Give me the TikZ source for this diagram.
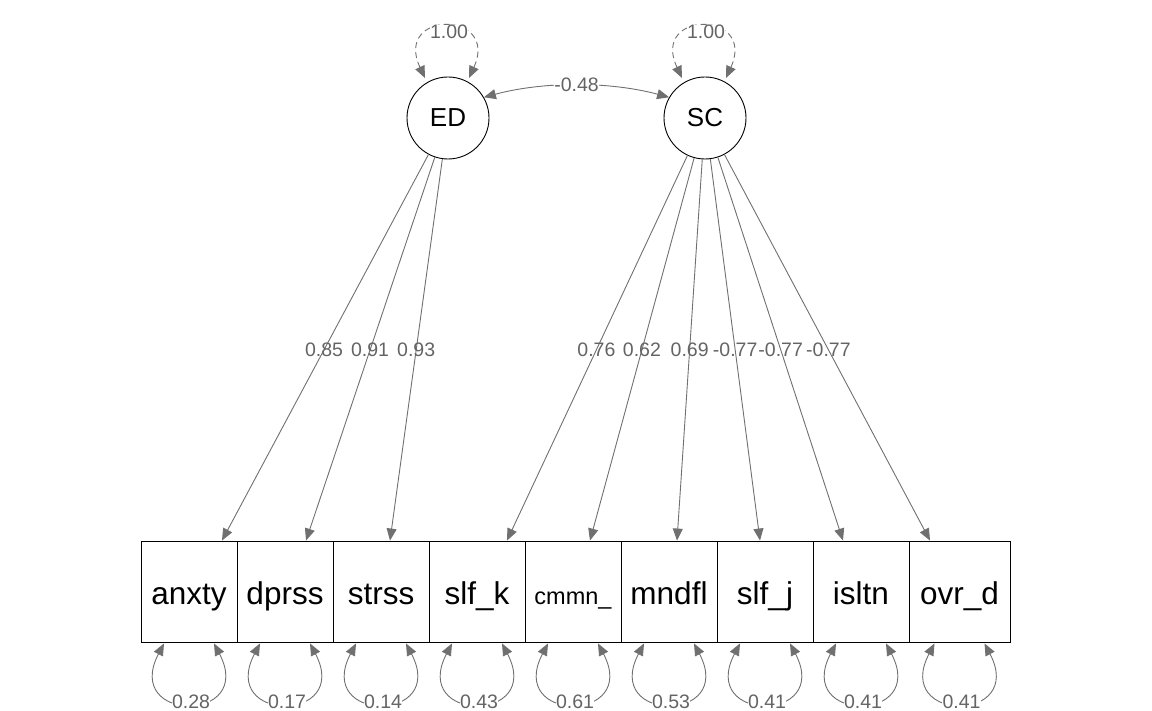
\documentclass[tikz,border=0pt]{standalone}
\usepackage{fontspec}
\setmainfont{Liberation Sans}
\usetikzlibrary{arrows.meta,calc}
\definecolor{edgecol}{RGB}{112,112,112}
\definecolor{labcol}{RGB}{100,100,100}
\begin{document}
\begin{tikzpicture}[x=1pt,y=-1pt,
  latent/.style={circle,draw=black,line width=0.9pt,minimum size=82pt,inner sep=0pt,font=\fontsize{26}{26}\selectfont},
  manifest/.style={rectangle,draw=black,line width=0.9pt,minimum width=96pt,minimum height=101pt,inner sep=0pt,text height=31pt,text depth=6pt,font=\fontsize{31.5}{31.5}\selectfont},
  tip/.tip={Triangle[length=12pt,width=10pt]},
  edge/.style={draw=edgecol,line width=0.9pt,-tip},
  twoway/.style={draw=edgecol,line width=0.9pt,tip-tip},
  elab/.style={text=labcol,font=\fontsize{19.5}{19.5}\selectfont,inner sep=0pt},
  blab/.style={text=labcol,font=\fontsize{19.5}{19.5}\selectfont,inner sep=0.5pt,fill=white}
]
\useasboundingbox (0,0) rectangle (1152,711);

% latent variables
\node[latent] (ED) at (448,118) {ED};
\node[latent] (SC) at (705,118) {SC};

% manifest variables
\node[manifest] (b1) at (189,591.5) {anxty};
\node[manifest] (b2) at (285,591.5) {dprss};
\node[manifest] (b3) at (381,591.5) {strss};
\node[manifest] (b4) at (477,591.5) {slf\_k};
\node[manifest,font=\fontsize{23.5}{23.5}\selectfont] (b5) at (573,591.5) {cmmn\_};
\node[manifest] (b6) at (669,591.5) {mndfl};
\node[manifest] (b7) at (765,591.5) {slf\_j};
\node[manifest] (b8) at (861,591.5) {isltn};
\node[manifest,minimum width=101pt] (b9) at (959.5,591.5) {ovr\_d};

% target points on box tops
\coordinate (t1) at ($(b1.north)+(33,0)$);
\coordinate (t2) at ($(b2.north)+(21,0)$);
\coordinate (t3) at ($(b3.north)+(9,0)$);
\coordinate (t4) at ($(b4.north)+(30,0)$);
\coordinate (t5) at ($(b5.north)+(17,0)$);
\coordinate (t6) at ($(b6.north)+(8,0)$);
\coordinate (t7) at ($(b7.north)+(-5,0)$);
\coordinate (t8) at ($(b8.north)+(-18,0)$);
\coordinate (t9) at ($(b9.north)+(-29.5,0)$);

% loadings
\foreach \t/\v in {t1/0.85,t2/0.91,t3/0.93}{
  \draw[edge] (ED) -- (\t);
  \node[elab] at ($(ED)!0.5485!(\t)$) {\v};
}
\foreach \t/\v in {t4/0.76,t5/0.62,t6/0.69,t7/-0.77,t8/-0.77,t9/-0.77}{
  \draw[edge] (SC) -- (\t);
  \node[elab] at ($(SC)!0.5485!(\t)$) {\v};
}

% covariance between latents
\draw[twoway] (ED.30) .. controls +(60,-16) and +(-60,-16) .. (SC.150)
  node[pos=0.5,blab] {-0.48};

% latent variances
\foreach \n in {ED,SC}{
  \draw[twoway,dash pattern=on 6pt off 4pt] ($(\n)+(-23,-40)$) .. controls +(-32,-68) and +(31,-68) .. ($(\n)+(21,-40)$);
  \node[blab] at ($(\n)+(1,-86)$) {1.00};
}

% residual variances
\foreach \b/\v in {b1/0.28,b2/0.17,b3/0.14,b4/0.43,b5/0.61,b6/0.53,b7/0.41,b8/0.41,b9/0.41}{
  \draw[twoway] ($(\b.south)+(-25,1)$) .. controls +(-42,80) and +(42,80) .. ($(\b.south)+(25,1)$);
  \node[blab] at ($(\b.south)+(2,59.5)$) {\v};
}
\end{tikzpicture}
\end{document}
